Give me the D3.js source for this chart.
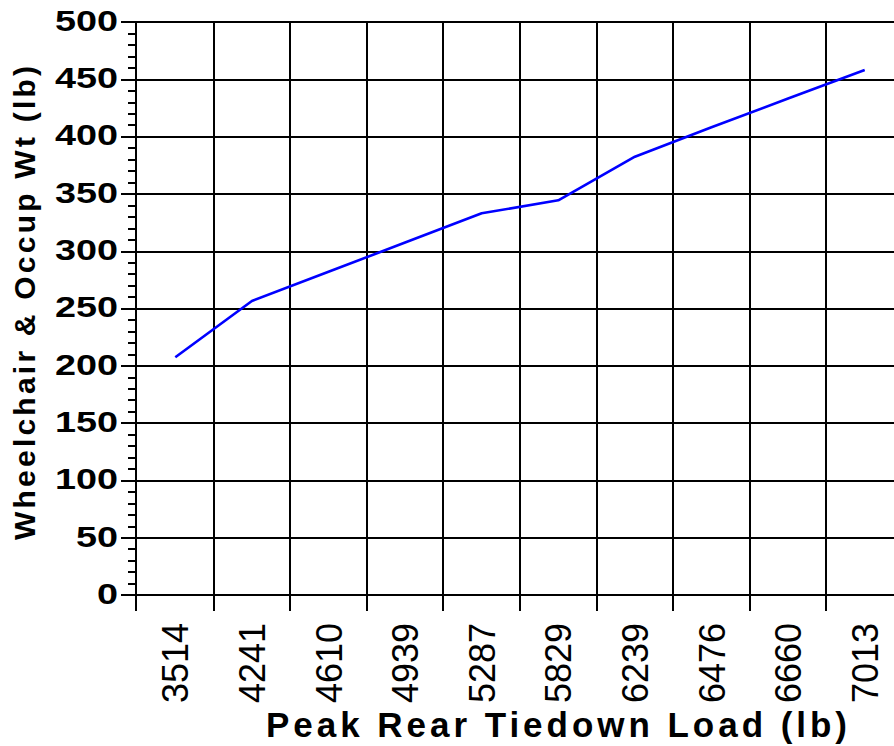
<!DOCTYPE html>
<html>
<head>
<meta charset="utf-8">
<script src="https://cdn.jsdelivr.net/npm/d3@7"></script>
<style>
  html, body { margin: 0; padding: 0; background: #fff; }
  svg { display: block; }
  text { font-family: "Liberation Sans", Arial, sans-serif; fill: #000; }
</style>
</head>
<body>
<svg id="chart" width="894" height="746"></svg>
<script>
// ---- data ----
const categories = ["3514", "4241", "4610", "4939", "5287", "5829", "6239", "6476", "6660", "7013"];
const values = [207.7, 256.8, 282.3, 307.8, 333.3, 344.7, 382.7, 408.4, 433.5, 458.4];
const yTickValues = [0, 50, 100, 150, 200, 250, 300, 350, 400, 450, 500];
const yMinorValues = d3.range(0, 501, 10).filter(v => v % 50 !== 0);
const xTitle = "Peak Rear Tiedown Load (lb)";
const yTitle = "Wheelchair & Occup Wt (lb)";

const svg = d3.select("#chart");
const W = 894;

const x = d3.scaleBand().domain(categories).range([137, 903]).padding(0);
const y = d3.scaleLinear().domain([0, 500]).range([595.3, 22.3]);
const ry = v => Math.round(y(v));
const rx = c => Math.round(x(c));

const axisX = 136;
const bottomTickEnd = 611;

const grid = svg.append("g").attr("shape-rendering", "crispEdges")
  .attr("stroke", "#000").attr("stroke-width", 2);

// horizontal gridlines + major ticks
grid.append("g").selectAll("line").data(yTickValues).join("line")
  .attr("x1", 121).attr("x2", W)
  .attr("y1", d => ry(d)).attr("y2", d => ry(d));

// minor ticks
grid.append("g").selectAll("line").data(yMinorValues).join("line")
  .attr("x1", 128).attr("x2", axisX)
  .attr("y1", d => ry(d)).attr("y2", d => ry(d));

// vertical gridlines at band boundaries
grid.append("g").selectAll("line").data(categories.slice(1)).join("line")
  .attr("x1", d => rx(d)).attr("x2", d => rx(d))
  .attr("y1", ry(500) - 1).attr("y2", bottomTickEnd);

// y axis line
grid.append("line")
  .attr("x1", axisX).attr("x2", axisX)
  .attr("y1", ry(500) - 1).attr("y2", bottomTickEnd);

// y tick labels
svg.append("g").selectAll("text").data(yTickValues).join("text")
  .attr("x", 118).attr("y", d => y(d) + 8.5)
  .attr("text-anchor", "end")
  .attr("font-size", 30).attr("font-weight", "bold")
  .attr("textLength", d => String(d).length * 21)
  .attr("lengthAdjust", "spacingAndGlyphs")
  .text(d => d);

// x tick labels (rotated)
svg.append("g").selectAll("text").data(categories).join("text")
  .attr("transform", d => `translate(${x(d) + x.bandwidth() / 2 + 13},623) rotate(-90)`)
  .attr("text-anchor", "end")
  .attr("font-size", 36)
  .text(d => d);

// data line
const data = categories.map((c, i) => ({ c, v: values[i] }));
const line = d3.line()
  .x(d => x(d.c) + x.bandwidth() / 2)
  .y(d => y(d.v));
svg.append("path").datum(data)
  .attr("d", line)
  .attr("fill", "none")
  .attr("stroke", "#0000ff")
  .attr("stroke-width", 2.6)
  .attr("stroke-linejoin", "round");

// axis titles
svg.append("text")
  .attr("x", 556.5).attr("y", 737)
  .attr("text-anchor", "middle")
  .attr("font-size", 35).attr("font-weight", "bold")
  .attr("textLength", 581).attr("lengthAdjust", "spacing")
  .text(xTitle);

svg.append("text")
  .attr("transform", "translate(35,303) rotate(-90)")
  .attr("text-anchor", "middle")
  .attr("font-size", 30).attr("font-weight", "bold")
  .attr("textLength", 474).attr("lengthAdjust", "spacing")
  .text(yTitle);
</script>
</body>
</html>
